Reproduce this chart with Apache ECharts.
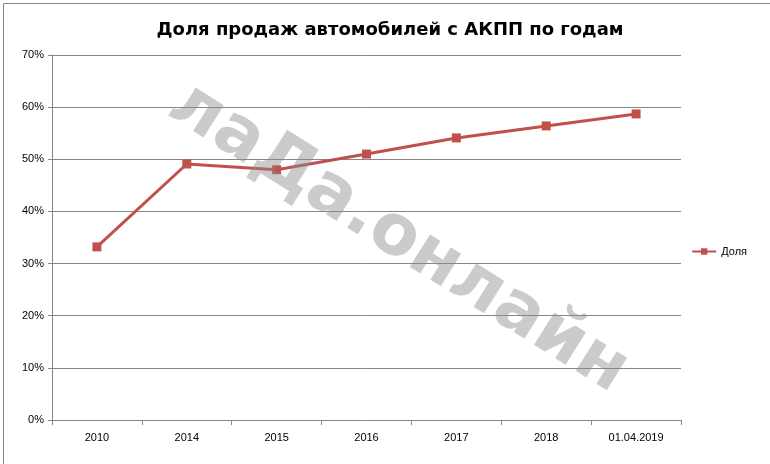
<!DOCTYPE html>
<html><head><meta charset="utf-8">
<script src="https://cdn.jsdelivr.net/npm/echarts@6/dist/echarts.min.js"></script>
<style>html,body{margin:0;padding:0;background:#fff}#c{width:770px;height:464px}</style>
</head><body><div id="c"></div>
<script>
const categories = ['2010','2014','2015','2016','2017','2018','01.04.2019'];
const values = [33.2, 49.1, 48.0, 51.0, 54.1, 56.4, 58.7];
const seriesName = 'Доля';
const chart = echarts.init(document.getElementById('c'));
chart.setOption({
  animation:false,
  backgroundColor:'#fff',
  title:{text:'Доля продаж автомобилей с АКПП по годам',left:385,top:16,textAlign:'center',
    textStyle:{fontFamily:'DejaVu Sans',fontSize:18,fontWeight:'bold',color:'#000'}},
  grid:{left:52,right:89,top:55,bottom:44},
  legend:{right:18,top:241,orient:'vertical',itemWidth:24,itemHeight:8,
    textStyle:{fontFamily:'Liberation Sans',fontSize:11,color:'#000'},data:[seriesName]},
  xAxis:{type:'category',data:categories,boundaryGap:true,
    axisLine:{lineStyle:{color:'#868686'}},axisTick:{show:true,length:5,lineStyle:{color:'#868686'}},
    axisLabel:{fontFamily:'Liberation Sans',fontSize:11,color:'#000',margin:12}},
  yAxis:{type:'value',min:0,max:70,interval:10,
    axisLine:{show:true,lineStyle:{color:'#868686'}},axisTick:{show:true,length:4,lineStyle:{color:'#868686'}},
    splitLine:{lineStyle:{color:'#868686'}},
    axisLabel:{formatter:'{value}%',fontFamily:'Liberation Sans',fontSize:11,color:'#000'}},
  series:[{name:seriesName,type:'line',data:values,symbol:'rect',symbolSize:9,
    lineStyle:{color:'#C0504D',width:3},itemStyle:{color:'#C0504D'}}],
  graphic:[
    {type:'rect',left:1,top:1,shape:{width:767,height:461},style:{fill:'none',stroke:'#868686',lineWidth:1},z:-1},
    {type:'text',x:398,y:238,rotation:-0.56,
     style:{text:'лаДа.онлайн',font:'bold 70px "DejaVu Sans"',fill:'rgba(140,140,140,0.45)',align:'center',verticalAlign:'middle'},z:10}
  ]
});
</script></body></html>
